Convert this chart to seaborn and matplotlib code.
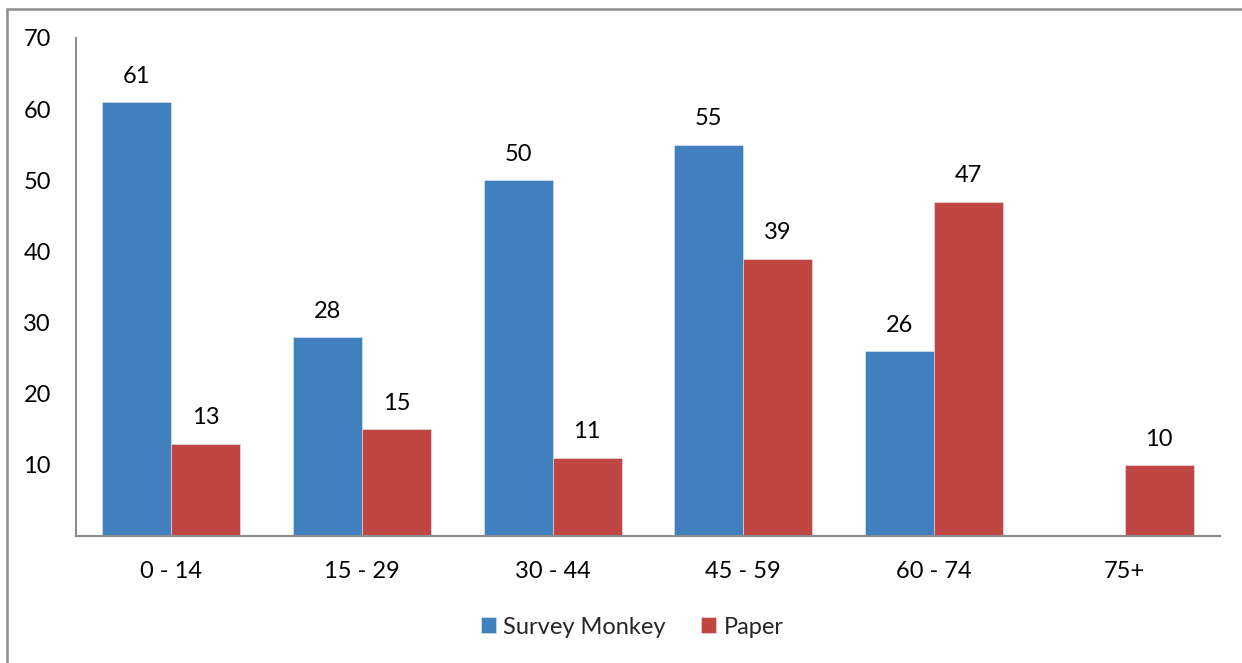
import matplotlib
matplotlib.use("Agg")
import matplotlib.pyplot as plt
import seaborn as sns
import pandas as pd
import numpy as np
from matplotlib.patches import Rectangle

categories = ["0 - 14", "15 - 29", "30 - 44", "45 - 59", "60 - 74", "75+"]
survey_monkey = [61, 28, 50, 55, 26, np.nan]
paper = [13, 15, 11, 39, 47, 10]
series_names = ["Survey Monkey", "Paper"]
yticks = [10, 20, 30, 40, 50, 60, 70]

df = pd.DataFrame({
    "Age": categories * 2,
    "Series": [series_names[0]] * len(categories) + [series_names[1]] * len(categories),
    "Value": survey_monkey + paper,
})

sns.set_theme(style="white")
plt.rcParams["font.family"] = ["Lato", "DejaVu Sans"]

W, H = 1242, 663
FS = 17
fig = plt.figure(figsize=(W / 100, H / 100), dpi=100)
ax = fig.add_axes([76 / W, 1 - 536 / H, (1220 - 76) / W, (536 - 38) / H])

colors = ["#4180BF", "#C04644"]
sns.barplot(data=df, x="Age", y="Value", hue="Series", palette=colors,
            width=0.724, ax=ax, saturation=1, legend=True, errorbar=None,
            edgecolor="#E8E8E8", linewidth=0.4)

for cont in ax.containers:
    for bar in cont:
        h = bar.get_height()
        if np.isnan(h) or h == 0:
            continue
        ax.annotate(f"{int(round(h))}", (bar.get_x() + bar.get_width() / 2, h),
                    xytext=(0, 11), textcoords="offset points",
                    ha="center", va="bottom", fontsize=FS, color="black")

ax.set_ylim(0, 70)
ax.set_yticks(yticks)
ax.set_xlim(-0.5, len(categories) - 0.5)
ax.set_xlabel("")
ax.set_ylabel("")
ax.tick_params(axis="both", length=0, labelsize=FS, colors="black")
ax.tick_params(axis="y", pad=18)
ax.tick_params(axis="x", pad=18)
for s in ["top", "right"]:
    ax.spines[s].set_visible(False)
for s in ["left", "bottom"]:
    ax.spines[s].set_color("#8C8C8C")
    ax.spines[s].set_linewidth(1.5)

handles, labels = ax.get_legend_handles_labels()
ax.get_legend().remove()
fig.legend(handles, labels, loc="center", bbox_to_anchor=(0.5 + 11 / W, 1 - 627 / H),
           ncol=2, frameon=False, fontsize=FS, handlelength=0.65,
           handleheight=0.65, handletextpad=0.3, columnspacing=1.5)

fig.patches.append(Rectangle((7 / W, -0.1), 1.2, 1 - 9 / H + 0.1,
                             transform=fig.transFigure, fill=False,
                             edgecolor="#8C8C8C", linewidth=1.8))

fig.savefig("out.png", dpi=100)
